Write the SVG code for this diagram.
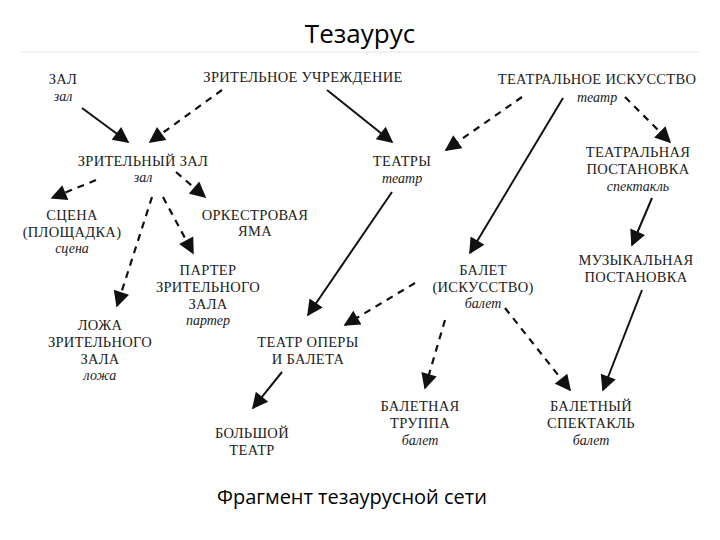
<svg xmlns="http://www.w3.org/2000/svg" width="720" height="540" viewBox="0 0 720 540">
<style>
.t{font-family:"Liberation Serif","DejaVu Serif",serif;font-size:14.5px;letter-spacing:0.3px;fill:#222;text-anchor:middle}
.i{font-family:"Liberation Serif","DejaVu Serif",serif;font-size:14px;font-style:italic;fill:#222;text-anchor:middle}
.s{stroke:#111;stroke-width:2;fill:none}
.d{stroke:#111;stroke-width:2.2;fill:none;stroke-dasharray:7,6}
</style>
<defs><marker id="b" viewBox="0 0 10 10" refX="9" refY="5" markerWidth="18" markerHeight="16" markerUnits="userSpaceOnUse" orient="auto"><path d="M0,0 L10,5 L0,10 z" fill="#111"/></marker></defs>
<rect width="720" height="540" fill="#fff"/>
<text x="360" y="43" font-family="Open Sans,sans-serif" font-size="26" text-anchor="middle" fill="#000">Тезаурус</text>
<line x1="20" y1="52" x2="700" y2="52" stroke="#e4e4e4" stroke-width="1"/>
<text x="352" y="504" font-family="Open Sans,sans-serif" font-size="20" text-anchor="middle" fill="#000">Фрагмент тезаурусной сети</text>
<g id="connectors" marker-end="url(#b)">
<path class="s" marker-end="url(#b)" d="M82,108 L128,142"/>
<path class="d" marker-end="url(#b)" d="M222,90 L150,142"/>
<path class="s" marker-end="url(#b)" d="M327,90 L392,142"/>
<path class="d" marker-end="url(#b)" d="M522,97 L446,150"/>
<path class="s" marker-end="url(#b)" d="M563,98 L470,253"/>
<path class="d" marker-end="url(#b)" d="M625,97 L670,142"/>
<path class="s" marker-end="url(#b)" d="M652,198 L632,245"/>
<path class="d" marker-end="url(#b)" d="M96,180 L52,198"/>
<path class="d" marker-end="url(#b)" d="M176,172 L205,197"/>
<path class="d" marker-end="url(#b)" d="M163,197 L193,253"/>
<path class="d" marker-end="url(#b)" d="M152,197 L117,306"/>
<path class="s" marker-end="url(#b)" d="M392,192 L308,315"/>
<path class="d" marker-end="url(#b)" d="M415,283 L345,325"/>
<path class="d" marker-end="url(#b)" d="M445,320 L425,388"/>
<path class="d" marker-end="url(#b)" d="M505,308 L570,390"/>
<path class="s" marker-end="url(#b)" d="M642,290 L603,390"/>
<path class="s" marker-end="url(#b)" d="M282,372 L253,408"/>
</g>
<g id="n1"><text class="t" x="63" y="84">ЗАЛ</text><text class="i" x="63" y="101">зал</text></g>
<g id="n2"><text class="t" x="303" y="82">ЗРИТЕЛЬНОЕ УЧРЕЖДЕНИЕ</text></g>
<g id="n3"><text class="t" x="597" y="84">ТЕАТРАЛЬНОЕ ИСКУССТВО</text><text class="i" x="597" y="102">театр</text></g>
<g id="n4"><text class="t" x="143" y="166">ЗРИТЕЛЬНЫЙ ЗАЛ</text><text class="i" x="143" y="182">зал</text></g>
<g id="n5"><text class="t" x="402" y="166">ТЕАТРЫ</text><text class="i" x="402" y="183">театр</text></g>
<g id="n6"><text class="t" x="638" y="157">ТЕАТРАЛЬНАЯ</text><text class="t" x="638" y="174">ПОСТАНОВКА</text><text class="i" x="638" y="191">спектакль</text></g>
<g id="n7"><text class="t" x="72" y="220">СЦЕНА</text><text class="t" x="72" y="237">(ПЛОЩАДКА)</text><text class="i" x="72" y="253">сцена</text></g>
<g id="n8"><text class="t" x="255" y="220">ОРКЕСТРОВАЯ</text><text class="t" x="255" y="236">ЯМА</text></g>
<g id="n9"><text class="t" x="208" y="275">ПАРТЕР</text><text class="t" x="208" y="292">ЗРИТЕЛЬНОГО</text><text class="t" x="208" y="309">ЗАЛА</text><text class="i" x="208" y="325">партер</text></g>
<g id="n10"><text class="t" x="483" y="275">БАЛЕТ</text><text class="t" x="483" y="292">(ИСКУССТВО)</text><text class="i" x="483" y="308">балет</text></g>
<g id="n11"><text class="t" x="636" y="265">МУЗЫКАЛЬНАЯ</text><text class="t" x="636" y="282">ПОСТАНОВКА</text></g>
<g id="n12"><text class="t" x="100" y="330">ЛОЖА</text><text class="t" x="100" y="347">ЗРИТЕЛЬНОГО</text><text class="t" x="100" y="364">ЗАЛА</text><text class="i" x="100" y="380">ложа</text></g>
<g id="n13"><text class="t" x="308" y="347">ТЕАТР ОПЕРЫ</text><text class="t" x="308" y="364">И БАЛЕТА</text></g>
<g id="n14"><text class="t" x="420" y="411">БАЛЕТНАЯ</text><text class="t" x="420" y="428">ТРУППА</text><text class="i" x="420" y="445">балет</text></g>
<g id="n15"><text class="t" x="591" y="411">БАЛЕТНЫЙ</text><text class="t" x="591" y="428">СПЕКТАКЛЬ</text><text class="i" x="591" y="445">балет</text></g>
<g id="n16"><text class="t" x="252" y="438">БОЛЬШОЙ</text><text class="t" x="252" y="455">ТЕАТР</text></g>
</svg>
